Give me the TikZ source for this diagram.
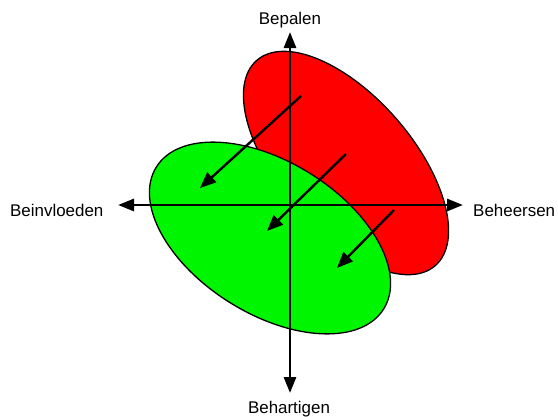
\documentclass[tikz,border=0pt]{standalone}
\usepackage{fontspec}
\setmainfont{Liberation Sans}
\usetikzlibrary{arrows.meta}
\begin{document}
\begin{tikzpicture}[x=1bp,y=1bp,
  blob/.style={draw=black, line width=1.3bp},
  axisline/.style={line width=2.8bp, {Triangle[length=16bp,width=12bp]}-{Triangle[length=16bp,width=12bp]}},
  flow/.style={line width=2.4bp, -{Triangle[length=16bp,width=13bp]}},
  lbl/.style={inner sep=0pt, font=\fontsize{17}{20}\selectfont}]
\useasboundingbox (0,0) rectangle (558,416);
% ellipses
\draw[blob, fill={rgb,255:red,255;green,0;blue,0}] (346,253) ellipse [x radius=136, y radius=67, rotate=-49];
\draw[blob, fill={rgb,255:red,0;green,245;blue,0}] (270,178) ellipse [x radius=134, y radius=76, rotate=-32];
% axis end points
\coordinate (top) at (290,384);
\coordinate (bottom) at (290,23);
\coordinate (left) at (118,211);
\coordinate (right) at (463,211);
\draw[axisline] (bottom) -- (top);
\draw[axisline] (left) -- (right);
% flow arrows
\coordinate (a1s) at (301,320); \coordinate (a1e) at (200,228);
\coordinate (a2s) at (346,262); \coordinate (a2e) at (267,185);
\coordinate (a3s) at (394,206); \coordinate (a3e) at (337,148);
\draw[flow] (a1s) -- (a1e);
\draw[flow] (a2s) -- (a2e);
\draw[flow] (a3s) -- (a3e);
% labels
\node[lbl, anchor=base] (bepalen) at (290,391) {Bepalen};
\node[lbl, anchor=base west] (beinvloeden) at (10,200) {Beinvloeden};
\node[lbl, anchor=base west] (beheersen) at (473,200) {Beheersen};
\node[lbl, anchor=base] (behartigen) at (289,3) {Behartigen};
\end{tikzpicture}
\end{document}
